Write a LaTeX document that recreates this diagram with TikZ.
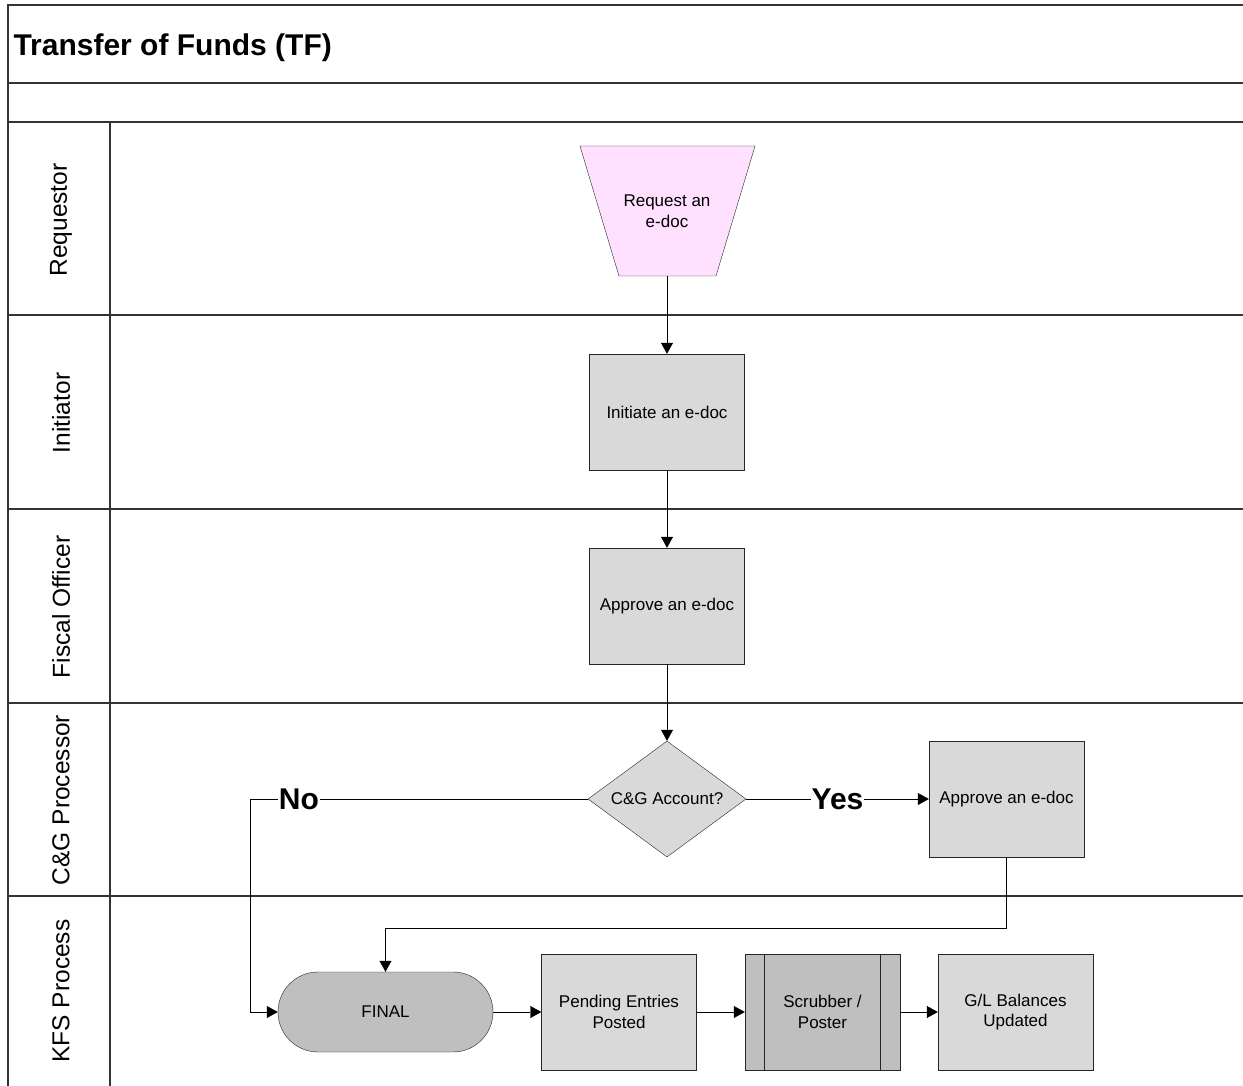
\documentclass[tikz,border=0pt]{standalone}
\usepackage{fontspec}
\setmainfont{Liberation Sans}
\usepackage{xcolor}
\definecolor{Silver Gray}{HTML}{D9D9D9}
\definecolor{Ash Gray}{HTML}{BFBFBF}
\definecolor{Pale Orchid}{HTML}{FFE1FF}
\colorlet{cTask}{Silver Gray}
\colorlet{cDark}{Ash Gray}
\colorlet{cPink}{Pale Orchid}
\usetikzlibrary{calc, positioning, arrows.meta, shapes.geometric}
\tikzset{
	line width = 1pt,
	>={Triangle[length=11pt, width=12pt]},
	font = \fontsize{17}{20.5}\selectfont,
	lane/.style={
		draw=black!80,
		line width=1.3pt
	},
	lane label/.style={
		rotate=90,
		font=\fontsize{24.5}{28}\selectfont
	},
	title/.style={
		font=\bfseries\fontsize{30}{34}\selectfont
	},
	task/.style={
		draw=black!85,
		fill=cTask,
		minimum width=155pt,
		minimum height=116pt,
		align=center,
		inner sep=2pt
	},
	subprocess/.style={
		task,
		fill=cDark
	},
	request/.style={
		minimum width=98pt,
		minimum height=130pt,
		align=center
	},
	request shape/.style={
		draw=black!85,
		fill=cPink
	},
	decision/.style={
		draw=black!85,
		fill=cTask,
		diamond,
		aspect=1.36,
		inner sep=0pt,
		minimum width=158pt,
		minimum height=116pt
	},
	terminal/.style={
		draw=black!85,
		fill=cDark,
		rounded corners=40pt,
		minimum width=215pt,
		minimum height=80pt
	},
	flow/.style={
		->,
		draw=black
	},
	answer/.style={
		fill=white,
		inner sep=1pt,
		font=\bfseries\fontsize{30}{34}\selectfont
	}
}

\begin{document}
\begin{tikzpicture}[x=1pt, y=-1pt]
	\useasboundingbox (0,0) rectangle (1243,1086);

	\draw[lane] (8,1090) -- (8,5) -- (1250,5);
	\draw[lane] (8,83) -- (1250,83);
	\draw[lane] (8,122) -- (1250,122);
	\foreach \y in {315,509,703,896}
		\draw[lane] (8,\y) -- (1250,\y);
	\draw[lane] (110,122) -- (110,1090);

	\node[title, anchor=west] (title) at (10,48) {Transfer of Funds (TF)};

	\node[lane label] (lRequestor) at (61,220) {Requestor};
	\node[lane label] (lInitiator) at (61,413) {Initiator};
	\node[lane label] (lFiscal) at (61,607) {Fiscal Officer};
	\node[lane label] (lProcessor) at (61,800) {C\&G Processor};
	\node[lane label] (lKfs) at (61,991) {KFS Process};

	\draw[request shape] (580,146) -- (755,146) -- (716,276) -- (619,276) -- cycle;
	\node[request] (request) at (667,211) {Request an\\e-doc};
	\node[task] (initiate) at (667,412) {Initiate an e-doc};
	\node[task] (foApprove) at (667,606) {Approve an e-doc};
	\node[decision] (cgCheck) at (667,799) {C\&G Account?};
	\node[task] (cgApprove) at (1006.5,799) {Approve an e-doc};
	\node[terminal] (final) at (385.5,1012) {FINAL};
	\node[task] (pending) at (619,1012) {Pending Entries\\Posted};
	\node[subprocess] (scrubber) at (822.5,1012) {Scrubber /\\Poster};
	\node[task] (glUpdate) at (1015.5,1012) {G/L Balances\\Updated};
	\draw[draw=black!85] ($(scrubber.north west)+(19,0)$) -- ($(scrubber.south west)+(19,0)$);
	\draw[draw=black!85] ($(scrubber.north east)+(-20,0)$) -- ($(scrubber.south east)+(-20,0)$);

	\coordinate (noBend) at (250,799);
	\coordinate (joinPt) at (385.5,928);

	\draw[flow] (request) -- (initiate);
	\draw[flow] (initiate) -- (foApprove);
	\draw[flow] (foApprove) -- (cgCheck);
	\draw[flow] (cgCheck) -- node[answer] {Yes} (cgApprove);
	\draw[flow] (cgCheck) -- node[answer, pos=.855] {No} (noBend) |- (final);
	\draw[flow] (cgApprove) |- (joinPt) -- (final);
	\draw[flow] (final) -- (pending);
	\draw[flow] (pending) -- (scrubber);
	\draw[flow] (scrubber) -- (glUpdate);
\end{tikzpicture}
\end{document}
